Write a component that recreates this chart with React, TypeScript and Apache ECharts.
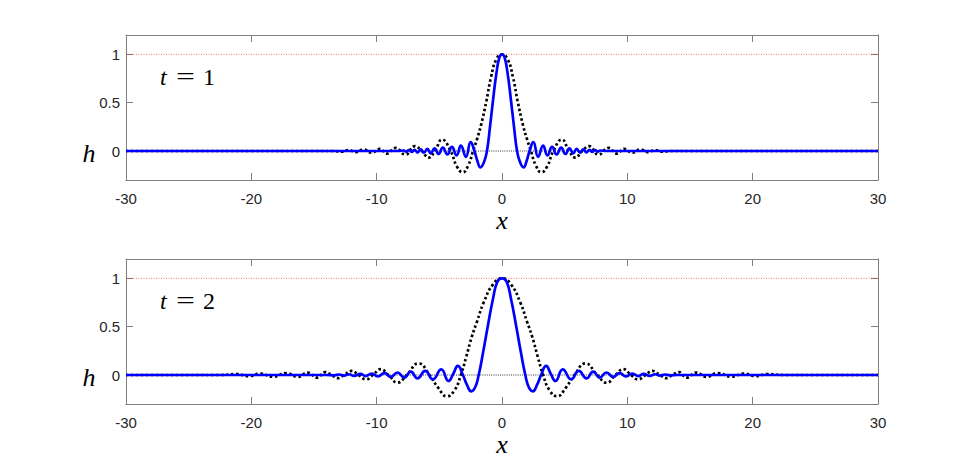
import React, { useEffect, useRef } from "react";
import * as echarts from "echarts";

// Values: [x, h]
const blueT1: [number, number][] = [
  [-30, 0], [-25, 0], [-20, 0], [-15, 0], [-10, 0], [-8.3, 0],
  [-7.85, 0.005], [-7.64, -0.007], [-7.43, 0.009], [-7.21, -0.01], [-6.98, 0.012], [-6.74, -0.014],
  [-6.49, 0.016], [-6.23, -0.018], [-5.96, 0.021], [-5.68, -0.024], [-5.38, 0.027], [-5.06, -0.03],
  [-4.72, 0.034], [-4.36, -0.036], [-4.0, 0.043], [-3.62, -0.045], [-3.28, 0.056], [-2.88, -0.06],
  [-2.5, 0.092], [-2.2, 0], [-1.97, -0.1], [-1.72, -0.17], [-1.45, -0.12], [-1.2, 0],
  [-0.95, 0.26], [-0.72, 0.52], [-0.45, 0.8], [-0.2, 0.97], [0, 1],
  [0.2, 0.97], [0.45, 0.8], [0.72, 0.52], [0.95, 0.26], [1.2, 0], [1.45, -0.12],
  [1.72, -0.17], [1.97, -0.1], [2.2, 0], [2.5, 0.092], [2.88, -0.06], [3.28, 0.056],
  [3.62, -0.045], [4.0, 0.043], [4.36, -0.036], [4.72, 0.034], [5.06, -0.03], [5.38, 0.027],
  [5.68, -0.024], [5.96, 0.021], [6.23, -0.018], [6.49, 0.016], [6.74, -0.014], [6.98, 0.012],
  [7.21, -0.01], [7.43, 0.009], [7.64, -0.007], [7.85, 0.005], [8.3, 0],
  [10, 0], [15, 0], [20, 0], [25, 0], [30, 0],
];

const blackT1: [number, number][] = [
  [-30, 0], [-25, 0], [-20, 0], [-15, 0], [-13.5, 0], [-12.8, -0.006], [-12.2, 0.01],
  [-11.7, -0.012], [-11.05, 0.017], [-10.4, -0.018], [-9.75, 0.022], [-9.18, -0.027],
  [-8.5, 0.032], [-7.7, -0.037], [-6.95, 0.05], [-6.4, 0], [-5.85, -0.068], [-5.35, 0],
  [-4.78, 0.118], [-4.1, 0], [-3.6, -0.16], [-3.13, -0.22], [-2.7, -0.15], [-2.31, 0],
  [-2.0, 0.12], [-1.67, 0.27], [-1.24, 0.52], [-0.88, 0.76], [-0.45, 0.95], [0, 1],
  [0.45, 0.95], [0.88, 0.76], [1.24, 0.52], [1.67, 0.27], [2.0, 0.12], [2.31, 0],
  [2.7, -0.15], [3.13, -0.22], [3.6, -0.16], [4.1, 0], [4.78, 0.118], [5.35, 0],
  [5.85, -0.068], [6.4, 0], [6.95, 0.05], [7.7, -0.037], [8.5, 0.032], [9.18, -0.027],
  [9.75, 0.022], [10.4, -0.018], [11.05, 0.017], [11.7, -0.012], [12.2, 0.01],
  [12.8, -0.006], [13.5, 0], [15, 0], [20, 0], [25, 0], [30, 0],
];

const blueT2: [number, number][] = [
  [-30, 0], [-25, 0], [-20, 0], [-14, 0], [-13.4, -0.003], [-13.0, 0.005], [-12.6, -0.006],
  [-12.2, 0.008], [-11.8, -0.009], [-11.3, 0.011], [-10.88, -0.012], [-10.4, 0.015],
  [-9.9, -0.015], [-9.38, 0.019], [-8.87, -0.02], [-8.34, 0.026], [-7.8, -0.027],
  [-7.28, 0.034], [-6.74, -0.035], [-6.13, 0.042], [-5.52, -0.045], [-4.85, 0.058],
  [-4.26, -0.062], [-3.9, 0.01], [-3.52, 0.094], [-3.12, 0], [-2.8, -0.1], [-2.45, -0.17],
  [-2.15, -0.13], [-1.86, 0], [-1.5, 0.24], [-1.14, 0.5], [-0.7, 0.8], [-0.35, 0.97], [0, 1],
  [0.35, 0.97], [0.7, 0.8], [1.14, 0.5], [1.5, 0.24], [1.86, 0], [2.15, -0.13],
  [2.45, -0.17], [2.8, -0.1], [3.12, 0], [3.52, 0.094], [3.9, 0.01], [4.26, -0.062],
  [4.85, 0.058], [5.52, -0.045], [6.13, 0.042], [6.74, -0.035], [7.28, 0.034],
  [7.8, -0.027], [8.34, 0.026], [8.87, -0.02], [9.38, 0.019], [9.9, -0.015], [10.4, 0.015],
  [10.88, -0.012], [11.3, 0.011], [11.8, -0.009], [12.2, 0.008], [12.6, -0.006],
  [13.0, 0.005], [13.4, -0.003], [14, 0], [20, 0], [25, 0], [30, 0],
];

const blackT2: [number, number][] = [
  [-30, 0], [-25, 0], [-22.5, 0], [-21.2, 0.01], [-20.2, -0.012], [-19.3, 0.015],
  [-18.3, -0.018], [-17.2, 0.02], [-16.3, -0.02], [-15.5, 0.025], [-14.75, -0.028],
  [-14.1, 0.03], [-13.6, 0], [-13.1, -0.033], [-12.6, 0], [-12.0, 0.042], [-11.45, 0],
  [-10.85, -0.045], [-10.3, 0], [-9.68, 0.06], [-9.06, 0], [-8.34, -0.08], [-7.6, 0],
  [-6.66, 0.12], [-5.78, 0], [-5.1, -0.13], [-4.4, -0.22], [-3.8, -0.16], [-3.28, 0],
  [-2.85, 0.19], [-2.4, 0.4], [-2.0, 0.55], [-1.46, 0.75], [-0.7, 0.94], [0, 1],
  [0.7, 0.94], [1.46, 0.75], [2.0, 0.55], [2.4, 0.4], [2.85, 0.19], [3.28, 0],
  [3.8, -0.16], [4.4, -0.22], [5.1, -0.13], [5.78, 0], [6.66, 0.12], [7.6, 0],
  [8.34, -0.08], [9.06, 0], [9.68, 0.06], [10.3, 0], [10.85, -0.045], [11.45, 0],
  [12.0, 0.042], [12.6, 0], [13.1, -0.033], [13.6, 0], [14.1, 0.03], [14.75, -0.028],
  [15.5, 0.025], [16.3, -0.02], [17.2, 0.02], [18.3, -0.018], [19.3, 0.015],
  [20.2, -0.012], [21.2, 0.01], [22.5, 0], [25, 0], [30, 0],
];

const refZero: [number, number][] = [[-30, 0], [30, 0]];
const refOne: [number, number][] = [[-30, 1], [30, 1]];
const timeLabels = ["1", "2"];
const yTickValues = [0, 0.5, 1];
const xMin = -30;
const xMax = 30;
const xStep = 10;
const yMin = -0.3;
const yMax = 1.2;

const AXIS_GRAY = "#7f7f7f";
const TEXT_DARK = "#262626";

export default function App() {
  const ref = useRef<HTMLDivElement>(null);

  useEffect(() => {
    document.body.style.margin = "0";
    const chart = echarts.init(ref.current!, null, { renderer: "svg" });

    const panels = [
      { top: 35, blue: blueT1, black: blackT1 },
      { top: 259, blue: blueT2, black: blackT2 },
    ];
    const gridLeft = 126;
    const gridWidth = 752;
    const gridHeight = 145;

    const grid: any[] = [];
    const xAxis: any[] = [];
    const yAxis: any[] = [];
    const series: any[] = [];
    const graphic: any[] = [];

    panels.forEach((p, i) => {
      grid.push({ left: gridLeft, top: p.top, width: gridWidth, height: gridHeight, containLabel: false });
      const tickStyle = { show: true, inside: true, length: 7, lineStyle: { color: AXIS_GRAY, width: 1 } };
      const lineStyle = { show: true, onZero: false, lineStyle: { color: AXIS_GRAY, width: 1 } };
      xAxis.push({
        gridIndex: i, type: "value", position: "bottom", min: xMin, max: xMax, interval: xStep,
        axisLine: lineStyle, axisTick: tickStyle, splitLine: { show: false },
        axisLabel: { color: TEXT_DARK, fontSize: 15, fontFamily: "Liberation Sans", margin: 11 },
      });
      xAxis.push({
        gridIndex: i, type: "value", position: "top", min: xMin, max: xMax, interval: xStep,
        axisLine: lineStyle, axisTick: tickStyle, splitLine: { show: false }, axisLabel: { show: false },
      });
      yAxis.push({
        gridIndex: i, type: "value", position: "left", min: yMin, max: yMax,
        axisLine: lineStyle, splitLine: { show: false },
        axisTick: { ...tickStyle, customValues: yTickValues },
        axisLabel: { color: TEXT_DARK, fontSize: 15, fontFamily: "Liberation Sans", margin: 6, customValues: yTickValues },
      });
      yAxis.push({
        gridIndex: i, type: "value", position: "right", min: yMin, max: yMax,
        axisLine: lineStyle, splitLine: { show: false },
        axisTick: { ...tickStyle, customValues: yTickValues }, axisLabel: { show: false },
      });
      const xi = i * 2;
      const yi = i * 2;
      series.push({
        type: "line", xAxisIndex: xi, yAxisIndex: yi, data: refOne, showSymbol: false, symbol: "none",
        lineStyle: { color: "rgba(255,0,0,0.7)", width: 0.8, type: [1, 1.5] }, silent: true, z: 1,
      });
      series.push({
        type: "line", xAxisIndex: xi, yAxisIndex: yi, data: refZero, showSymbol: false, symbol: "none",
        lineStyle: { color: "#000000", width: 0.8, type: [1, 1.2] }, silent: true, z: 1,
      });
      series.push({
        type: "line", xAxisIndex: xi, yAxisIndex: yi, data: p.black, showSymbol: false, symbol: "none",
        smooth: 0.5, lineStyle: { color: "#000000", width: 2.7, type: [2.5, 2.5], cap: "butt" }, z: 2,
      });
      series.push({
        type: "line", xAxisIndex: xi, yAxisIndex: yi, data: p.blue, showSymbol: false, symbol: "none",
        smooth: 0.5, lineStyle: { color: "#0000ff", width: 2.7 }, z: 3,
      });

      const y0 = p.top + gridHeight * (yMax / (yMax - yMin));
      // panel annotations
      graphic.push({
        type: "text", x: 160, y: p.top + 42,
        style: { text: "t", font: "italic 24px 'Liberation Serif'", lineHeight: 16, fill: "#000", verticalAlign: "middle", align: "left" },
      });
      graphic.push({
        type: "text", x: 185.5, y: p.top + 41, scaleX: 1.4,
        style: { text: "=", font: "24px 'Liberation Serif'", lineHeight: 16, fill: "#000", verticalAlign: "middle", align: "center" },
      });
      graphic.push({
        type: "text", x: 203, y: p.top + 42,
        style: { text: timeLabels[i], font: "24px 'Liberation Serif'", lineHeight: 16, fill: "#000", verticalAlign: "middle", align: "left" },
      });
      graphic.push({
        type: "text", x: 89, y: y0 + 2,
        style: { text: "h", font: "italic 26px 'Liberation Serif'", lineHeight: 16, fill: "#000", verticalAlign: "middle", align: "center" },
      });
      graphic.push({
        type: "text", x: gridLeft + gridWidth / 2, y: p.top + gridHeight + 40,
        style: { text: "x", font: "italic 26px 'Liberation Serif'", lineHeight: 12, fill: "#000", verticalAlign: "middle", align: "center" },
      });
    });

    chart.setOption({
      animation: false,
      backgroundColor: "#ffffff",
      grid, xAxis, yAxis, series, graphic,
    });
    return () => chart.dispose();
  }, []);

  return <div ref={ref} style={{ position: "absolute", left: 0, top: 0, width: 969, height: 473 }} />;
}
